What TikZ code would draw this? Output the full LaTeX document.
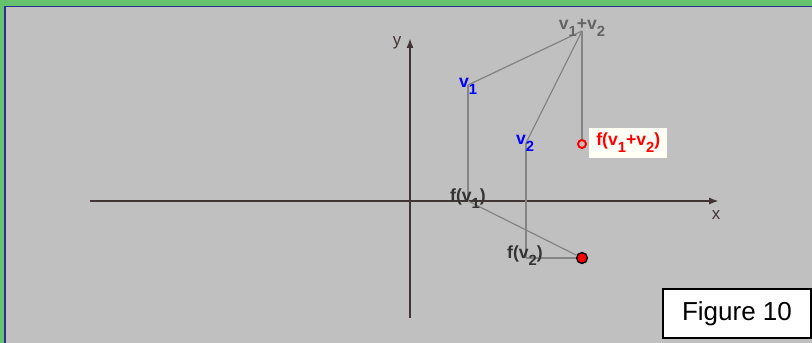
\documentclass[tikz,border=0pt]{standalone}
\usepackage{fontspec}
\setmainfont{Liberation Sans}
\usepackage{xcolor}
\usepackage{tikz}
\usetikzlibrary{arrows.meta,calc}
\definecolor{figbg}{RGB}{192,192,192}
\definecolor{figgreen}{RGB}{100,195,108}
\definecolor{figframe}{RGB}{40,50,140}
\definecolor{figaxis}{RGB}{64,52,52}
\definecolor{figline}{RGB}{132,132,132}
\definecolor{figvec}{RGB}{0,0,255}
\definecolor{figred}{RGB}{255,0,0}
\definecolor{figsum}{RGB}{100,100,100}
\definecolor{figtag}{RGB}{255,255,245}
\newcommand{\lowix}[1]{\raisebox{-0.75ex}{\fontsize{10.5}{10}\selectfont#1}}
\tikzset{
  ax/.style   ={draw=figaxis, line width=1.4pt, -{Latex[length=7pt,width=5pt]}},
  gl/.style   ={draw=figline, line width=0.9pt},
  lab/.style  ={font=\fontsize{12.5}{13}\selectfont\bfseries, inner sep=0pt},
  axlab/.style={font=\fontsize{12}{12}\selectfont, text=figaxis, inner sep=0pt},
}
\begin{document}
\begin{tikzpicture}[x=0.025cm,y=-0.025cm]
  \useasboundingbox (0,0) rectangle (812,343);
  \fill[figgreen] (0,0) rectangle (812,343);
  \fill[figbg] (5,7) rectangle (812,343);
  \draw[figframe, line width=1.1pt] (5,343) -- (5,6.5) -- (812,6.5);
  % axes
  \coordinate (xs) at (90,201);
  \coordinate (xe) at (719,201);
  \coordinate (ys) at (410,318);
  \coordinate (ye) at (410,38);
  \draw[ax] (xs) -- (xe);
  \draw[ax] (ys) -- (ye);
  \node[axlab] (xl) at (716,215) {x};
  \node[axlab] (yl) at (397,43) {y};
  % points
  \coordinate (v1) at (468,85);
  \coordinate (v2) at (526,143);
  \coordinate (s) at (582,31);
  \coordinate (fv1) at (468,201);
  \coordinate (fv2) at (526,258);
  \node[circle, draw=figred, line width=1.4pt, minimum size=0.2cm, inner sep=0pt] (fs) at (582,144) {};
  \node[circle, draw=black, fill=figred, line width=1pt, minimum size=0.27cm, inner sep=0pt] (fsum) at (582,258) {};
  % construction lines
  \draw[gl] (v1) -- (s);
  \draw[gl] (v2) -- (s);
  \draw[gl] (s) -- (fs);
  \draw[gl] (v1) -- (fv1);
  \draw[gl] (v2) -- (fv2);
  \draw[gl] (fv1) -- (fsum);
  \draw[gl] (fv2) -- (fsum);
  % labels
  \node[lab, text=figvec] (v1l) at (468,86) {v\lowix{1}};
  \node[lab, text=figvec] (v2l) at (525,143) {v\lowix{2}};
  \node[lab, text=figsum] (sl) at (582,28) {v\lowix{1}+v\lowix{2}};
  \node[lab, text=black!80] (fv1l) at (468,199) {f(v\lowix{1})};
  \node[lab, text=black!80] (fv2l) at (525,256) {f(v\lowix{2})};
  \node[lab, text=figred, fill=figtag, anchor=west, minimum width=1.95cm, minimum height=0.75cm] (fsl) at (589,143) {f(v\lowix{1}+v\lowix{2})};
  \node[draw=black, fill=white, line width=1pt, minimum width=3.7cm, minimum height=1.22cm,
        font=\fontsize{18.5}{20}\selectfont] (fig) at (737,313.5) {Figure 10};
\end{tikzpicture}
\end{document}
